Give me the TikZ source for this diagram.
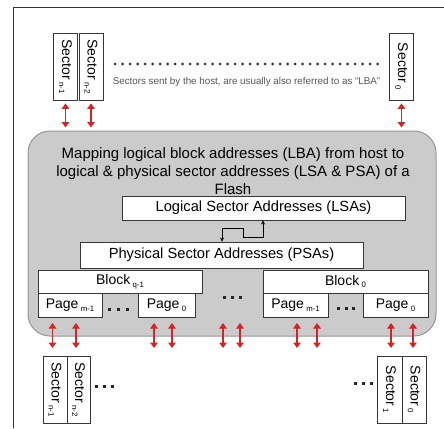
\documentclass[tikz,border=0pt]{standalone}
\usepackage{fontspec}
\setmainfont{Liberation Sans}
\usetikzlibrary{arrows.meta}
\definecolor{boxline}{RGB}{55,55,55}
\definecolor{mapfill}{RGB}{203,203,203}
\definecolor{mapline}{RGB}{150,150,150}
\definecolor{arrred}{RGB}{215,35,35}
\definecolor{captxt}{RGB}{85,85,85}
\newcommand\mysub[1]{\,\raisebox{-2.8pt}{\fontsize{7.8}{8}\selectfont #1}}
\tikzset{
 wbox/.style={draw=boxline, fill=white, line width=0.8pt, inner sep=0pt, font=\fontsize{14}{16}\selectfont},
 sectorbox/.style={wbox, minimum width=67pt, minimum height=24pt},
 rarr/.style={draw=arrred, line width=1.8pt, {Triangle[length=5.5pt,width=7.5pt]}-{Triangle[length=5.5pt,width=7.5pt]}},
 conn/.style={draw=black, line width=1pt, {Stealth[length=4pt,width=4pt]}-{Stealth[length=4pt,width=4pt]}},
 dotsline/.style={draw=black!85, line width=3pt},
}
\begin{document}
\begin{tikzpicture}[x=1pt,y=-1pt]
\useasboundingbox (0,0) rectangle (444,428);
% frame
\draw[line width=1pt, black!80] (13,428) -- (13,8) -- (444,8);
% top sectors
\node[sectorbox, rotate=-90] (ts1) at (65.5,66.5) {Sector\mysub{n-1}};
\node[sectorbox, rotate=-90] (ts2) at (91,66.5) {Sector\mysub{n-2}};
\node[sectorbox, rotate=-90] (ts0) at (401.5,66.5) {Sector\mysub{0}};
\draw[line width=3pt, line cap=round, dash pattern=on 0pt off 7.5pt, black!80] (115,64) -- (381,64);
\node[font=\fontsize{9.8}{11}\selectfont, text=captxt] (cap) at (246.5,82) {Sectors sent by the host, are usually also referred to as “LBA”};
% mapping area
\node[draw=mapline, fill=mapfill, rounded corners=22pt, minimum width=408pt, minimum height=205pt, line width=1pt] (map) at (232,233.5) {};
\foreach \s in {ts1,ts2,ts0}{
  \draw[rarr, shorten <=3pt, shorten >=3pt] (\s.east) -- (\s.east |- map.north);
}
\node[align=center, font=\fontsize{15}{18}\selectfont] (title) at (233,171) {Mapping logical block addresses (LBA) from host to\\logical \& physical sector addresses (LSA \& PSA) of a\\Flash};
\node[wbox, minimum width=283pt, minimum height=24pt, font=\fontsize{14.7}{16}\selectfont] (lsa) at (263.5,208) {Logical Sector Addresses (LSAs)};
\node[wbox, minimum width=283pt, minimum height=26pt, font=\fontsize{14.7}{16}\selectfont] (psa) at (221.5,255) {Physical Sector Addresses (PSAs)};
\coordinate (k1) at (263,237);
\coordinate (k2) at (243,228);
\coordinate (k3) at (222,228);
\draw[conn] (lsa.south -| k1) -- (k1) -| (k2) -- (k3) -- (psa.north -| k3);
% blocks and pages
\node[wbox, minimum width=164pt, minimum height=23pt] (bq) at (120,281.5) {Block\mysub{q-1}};
\node[wbox, minimum width=165pt, minimum height=23pt] (b0) at (345.5,281.5) {Block\mysub{0}};
\node[wbox, minimum width=64pt, minimum height=24pt] (pqm) at (70,305) {Page\mysub{m-1}};
\node[wbox, minimum width=57pt, minimum height=24pt] (pq0) at (166.5,305) {Page\mysub{0}};
\node[wbox, minimum width=65pt, minimum height=24pt] (p0m) at (295.5,305) {Page\mysub{m-1}};
\node[wbox, minimum width=65pt, minimum height=24pt] (p00) at (395.5,305) {Page\mysub{0}};
\draw[dotsline, dash pattern=on 3pt off 6pt] (108,309) -- (130,309);
\draw[dotsline, dash pattern=on 3pt off 5pt] (223,297) -- (242,297);
\draw[dotsline, dash pattern=on 3pt off 4.5pt] (337,308) -- (355,308);
% bottom arrows
\foreach \i/\x in {1/52.5,2/76,3/154,4/172,5/223,6/240,7/297,8/317,9/391,10/413}{
  \coordinate (ua\i) at (\x,323);
  \coordinate (la\i) at (\x,348);
  \draw[rarr] (ua\i) -- (la\i);
}
% bottom sectors
\node[sectorbox, rotate=-90] (bs1) at (55,389.5) {Sector\mysub{n-1}};
\node[sectorbox, rotate=-90, minimum height=23pt] (bs2) at (78.5,389.5) {Sector\mysub{n-2}};
\node[sectorbox, rotate=-90, minimum height=25pt] (bsa) at (389.5,389.5) {Sector\mysub{1}};
\node[sectorbox, rotate=-90] (bsb) at (414,389.5) {Sector\mysub{0}};
\draw[dotsline, dash pattern=on 3pt off 5pt] (95,386) -- (114,386);
\draw[dotsline, dash pattern=on 3pt off 5pt] (354,383) -- (373,383);
\end{tikzpicture}
\end{document}
